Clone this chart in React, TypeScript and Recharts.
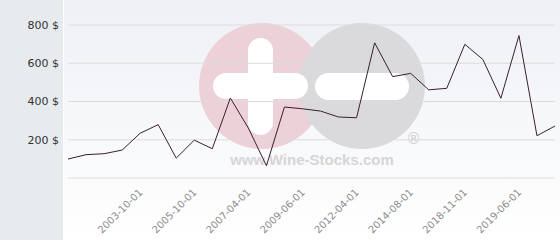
import { LineChart, Line, XAxis, YAxis, CartesianGrid } from 'recharts';

document.body.style.margin = '0';

const dates = [
  '2002-06-01', '2002-10-01', '2003-02-01', '2003-06-01', '2003-10-01', '2004-04-01', '2005-02-01',
  '2005-10-01', '2006-04-01', '2006-10-01', '2007-04-01', '2008-02-01', '2008-10-01', '2009-06-01',
  '2010-06-01', '2011-04-01', '2012-04-01', '2013-02-01', '2013-10-01', '2014-08-01', '2015-10-01',
  '2017-04-01', '2018-11-01', '2019-01-01', '2019-03-01', '2019-06-01', '2019-09-01', '2020-01-01',
];
const prices = [
  99, 122, 127, 146, 234, 279, 104, 198, 153, 418, 261, 64, 371, 362,
  350, 319, 315, 707, 530, 547, 461, 469, 699, 620, 417, 745, 221, 272,
];
const dateTicks = [
  '2003-10-01', '2005-10-01', '2007-04-01', '2009-06-01',
  '2012-04-01', '2014-08-01', '2018-11-01', '2019-06-01',
];
const priceTicks = [0, 200, 400, 600, 800];

const chartData = dates.map((date, i) => ({ date, price: prices[i] }));

/** rotated date label, ends just right of the tick */
const DateTick = ({ x, y, payload }: { x?: number; y?: number; payload?: { value: string } }) => {
  const ax = (x ?? 0) + 3;
  const ay = (y ?? 0) + 7;
  return (
    <text
      x={ax}
      y={ay}
      transform={`rotate(-45 ${ax} ${ay})`}
      textAnchor="end"
      fontSize={10}
      fontFamily="DejaVu Sans"
      fill="#8c8c8c"
    >
      {payload?.value}
    </text>
  );
};

// watermark behind the chart
const Watermark = () => (
  <svg width={560} height={240} style={{ position: 'absolute', left: 0, top: 0 }}>
    <circle cx={262} cy={86} r={63} fill="#ecd1d9" />
    <circle cx={362} cy={86} r={63} fill="#dadadc" />
    <rect x={248} y={38} width={25} height={97} rx={12.5} fill="#ffffff" />
    <rect x={213} y={73} width={95} height={26} rx={13} fill="#ffffff" />
    <rect x={315} y={73} width={94} height={27} rx={13.5} fill="#ffffff" />
    <text x={312} y={165} textAnchor="middle" fontSize={15} fontWeight="bold" fontFamily="Liberation Sans" fill="#d6d6d6">
      www.Wine-Stocks.com
    </text>
    <text x={413.5} y={144} textAnchor="middle" fontSize={15} fontFamily="DejaVu Sans" fill="#d0d0d0">
      ®
    </text>
  </svg>
);

export default function App() {
  return (
    <div
      style={{
        position: 'relative',
        width: 560,
        height: 240,
        background: 'linear-gradient(#eef0f5, #ffffff)',
        overflow: 'hidden',
      }}
    >
      {/* grey panel behind the price labels */}
      <div style={{ position: 'absolute', left: 0, top: 0, width: 63, height: 240, background: '#e7ebee' }} />
      <div style={{ position: 'absolute', left: 63, top: 0, width: 1, height: 240, background: '#ffffff' }} />
      <Watermark />
      <div style={{ position: 'absolute', left: 0, top: 0 }}>
        <LineChart width={560} height={240} data={chartData} margin={{ top: 25, right: 5, left: 0, bottom: 0 }}>
          <CartesianGrid vertical={false} stroke="#dcdcdc" />
          <XAxis
            dataKey="date"
            ticks={dateTicks}
            interval={0}
            axisLine={false}
            tickLine={false}
            height={62}
            tick={<DateTick />}
          />
          <YAxis
            domain={[0, 800]}
            ticks={priceTicks}
            width={68}
            axisLine={false}
            tickLine={false}
            tickSize={0}
            tickMargin={9}
            tick={{ fontSize: 11, fill: '#333333', fontFamily: 'DejaVu Sans' }}
            tickFormatter={(v: number) => (v === 0 ? '' : `${v} $`)}
          />
          <Line
            type="linear"
            dataKey="price"
            stroke="#3a1f2c"
            strokeWidth={1}
            dot={false}
            isAnimationActive={false}
          />
        </LineChart>
      </div>
    </div>
  );
}
